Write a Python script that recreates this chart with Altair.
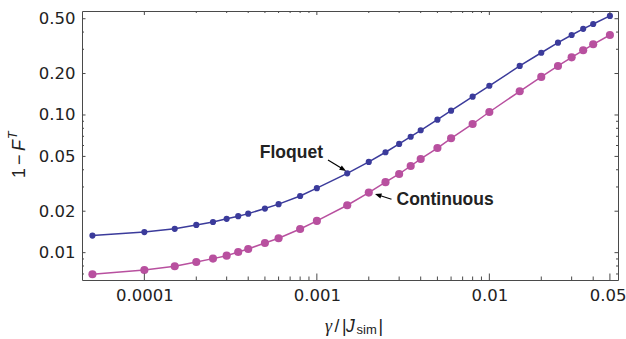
import altair as alt
import pandas as pd

# ---------------- data ----------------
gamma = [5e-5, 1e-4, 1.5e-4, 2e-4, 2.5e-4, 3e-4, 3.5e-4, 4e-4, 5e-4, 6e-4, 8e-4,
         1e-3, 1.5e-3, 2e-3, 2.5e-3, 3e-3, 3.5e-3, 4e-3, 5e-3, 6e-3, 8e-3,
         1e-2, 1.5e-2, 2e-2, 2.5e-2, 3e-2, 3.5e-2, 4e-2, 5e-2]
floquet = [0.0133, 0.0141, 0.0149, 0.0159, 0.0167, 0.0176, 0.0184, 0.0192, 0.0209, 0.0225, 0.0258,
           0.0294, 0.0377, 0.0456, 0.0536, 0.0616, 0.0695, 0.0774, 0.0924, 0.1074, 0.1358,
           0.163, 0.227, 0.283, 0.335, 0.381, 0.422, 0.458, 0.524]
continuous = [0.00697, 0.00749, 0.00797, 0.00856, 0.00905, 0.00951, 0.01012, 0.01064, 0.01176, 0.01272, 0.01486,
              0.0170, 0.0221, 0.0273, 0.0325, 0.0373, 0.0426, 0.0479, 0.0575, 0.0677, 0.086,
              0.1051, 0.1486, 0.189, 0.227, 0.262, 0.295, 0.326, 0.381]
series_names = ["Floquet", "Continuous"]

x_labels = [0.0001, 0.001, 0.01, 0.05]
x_minor = [2e-4, 3e-4, 4e-4, 5e-4, 6e-4, 7e-4, 8e-4, 9e-4,
           2e-3, 3e-3, 4e-3, 5e-3, 6e-3, 7e-3, 8e-3, 9e-3,
           2e-2, 3e-2, 4e-2]
y_labels = [0.01, 0.02, 0.05, 0.10, 0.20, 0.50]
y_minor = [0.007, 0.008, 0.009, 0.03, 0.04, 0.06, 0.07, 0.08, 0.09, 0.3, 0.4]
x_domain = [4.35e-5, 0.0557]
y_domain = [0.00633, 0.569]

# ---------------- styling ----------------
W, H = 536, 269
BLUE = "#3b3b9b"
PINK = "#b8509f"
FRAME = "#4a4a4a"
TXT = "#222222"
TICKFONT = "DejaVu Sans"
FONT = "Liberation Sans"

xs = alt.Scale(type="log", domain=x_domain, nice=False)
ys = alt.Scale(type="log", domain=y_domain, nice=False)

n = len(gamma)
df = pd.DataFrame({
    "gamma": gamma + gamma,
    "value": floquet + continuous,
    "series": [series_names[0]] * n + [series_names[1]] * n,
})

x_axis = alt.Axis(values=x_labels, format="~g", ticks=False, domain=False, grid=False,
                  labelFont=TICKFONT, labelFontSize=16.5, labelColor=TXT, labelPadding=7,
                  labelFlush=False, labelOverlap=False, title=None,
                  labelAlign={"condition": {"test": "datum.value > 0.04", "value": "right"},
                              "value": "center"},
                  labelOffset={"condition": {"test": "datum.value > 0.04", "value": 16},
                               "value": 0})
y_axis = alt.Axis(values=y_labels, format=".2f", ticks=False, domain=False, grid=False,
                  labelFont=TICKFONT, labelFontSize=16.5, labelColor=TXT, labelPadding=7,
                  labelOverlap=False, title=None)

X = lambda: alt.X("gamma:Q", scale=xs, axis=x_axis)
Y = lambda: alt.Y("value:Q", scale=ys, axis=y_axis)

layers = []


def series_layers(name, color, size):
    base = alt.Chart(df[df["series"] == name])
    line = base.mark_line(color=color, strokeWidth=1.5).encode(x=X(), y=Y())
    pts = base.mark_circle(color=color, size=size, opacity=1).encode(x=X(), y=Y())
    return [line, pts]


layers += series_layers(series_names[1], PINK, 66)
layers += series_layers(series_names[0], BLUE, 38)

# ---------------- inward ticks on all four sides ----------------
def xticks(vals, length, top):
    y0 = 0 if top else H
    y1 = length if top else H - length
    return alt.Chart(pd.DataFrame({"gamma": vals})).mark_rule(color=FRAME, strokeWidth=1).encode(
        x=X(), y=alt.value(y0), y2=alt.value(y1))


def yticks(vals, length, right):
    x0 = W if right else 0
    x1 = W - length if right else length
    return alt.Chart(pd.DataFrame({"value": vals})).mark_rule(color=FRAME, strokeWidth=1).encode(
        y=Y(), x=alt.value(x0), x2=alt.value(x1))


layers += [
    xticks(x_labels, 6.5, False), xticks(x_minor, 3.5, False),
    xticks(x_labels, 4, True), xticks(x_minor, 2, True),
    yticks(y_labels, 3.5, False), yticks(y_minor, 2, False),
    yticks(y_labels, 3.5, True), yticks(y_minor, 2, True),
]

# ---------------- annotations ----------------
ann = pd.DataFrame({"t": series_names})
layers.append(alt.Chart(ann.iloc[[0]]).mark_text(
    font=FONT, fontWeight="bold", fontSize=17.5, color=TXT, align="right", baseline="middle").encode(
    text="t:N", x=alt.value(241), y=alt.value(142)))
layers.append(alt.Chart(ann.iloc[[1]]).mark_text(
    font=FONT, fontWeight="bold", fontSize=17.5, color=TXT, align="left", baseline="middle").encode(
    text="t:N", x=alt.value(314.5), y=alt.value(189)))

ARROW = "M0,0L-2,-0.8L-2,0.8Z"
# Floquet arrow
layers.append(alt.Chart(ann.iloc[[0]]).mark_rule(color="black", strokeWidth=1.2).encode(
    x=alt.value(246), y=alt.value(149), x2=alt.value(260), y2=alt.value(157.5)))
layers.append(alt.Chart(ann.iloc[[0]]).mark_point(shape=ARROW, filled=True, color="black", opacity=1,
                                                  size=42, angle=31.4, strokeWidth=0).encode(
    x=alt.value(264), y=alt.value(160)))
# Continuous arrow
layers.append(alt.Chart(ann.iloc[[1]]).mark_rule(color="black", strokeWidth=1.2).encode(
    x=alt.value(309.5), y=alt.value(188.3), x2=alt.value(297), y2=alt.value(184.3)))
layers.append(alt.Chart(ann.iloc[[1]]).mark_point(shape=ARROW, filled=True, color="black", opacity=1,
                                                  size=42, angle=197.6, strokeWidth=0).encode(
    x=alt.value(293), y=alt.value(183)))

# ---------------- axis titles built from pieces ----------------
def piece(text, x, y, size, style="normal", angle=0, font=FONT):
    return alt.Chart(ann.iloc[[0]]).mark_text(
        text=text, font=font, fontSize=size, fontStyle=style, color=TXT,
        align="left", baseline="alphabetic", angle=angle).encode(x=alt.value(x), y=alt.value(y))


# y title: 1−F^T (rotated)
layers += [
    piece("1", -57, 167, 18, angle=270),
    piece("\u2212", -57, 154, 18, angle=270),
    piece("F", -57, 140, 18, "italic", angle=270),
    piece("T", -65, 128, 12.5, "italic", angle=270),
]
# x title: γ/|J_sim|
layers += [
    piece("\u03b3", 243, 321, 18, "italic", font="Liberation Serif"),
    piece("/", 252.5, 321, 17.5),
    piece("|", 260, 321, 17.5),
    piece("J", 264, 321, 17.5, "italic"),
    piece("sim", 274.5, 322.5, 13),
    piece("|", 296.5, 321, 17.5),
]

chart = alt.layer(*layers).properties(
    width=W, height=H,
    padding={"left": 82, "top": 11, "right": 8, "bottom": 59},
    autosize=alt.AutoSizeParams(type="none"),
    background="white",
).configure_view(stroke=FRAME, strokeWidth=1)

chart.save("out.html", embed_options={"renderer": "svg", "actions": False})
